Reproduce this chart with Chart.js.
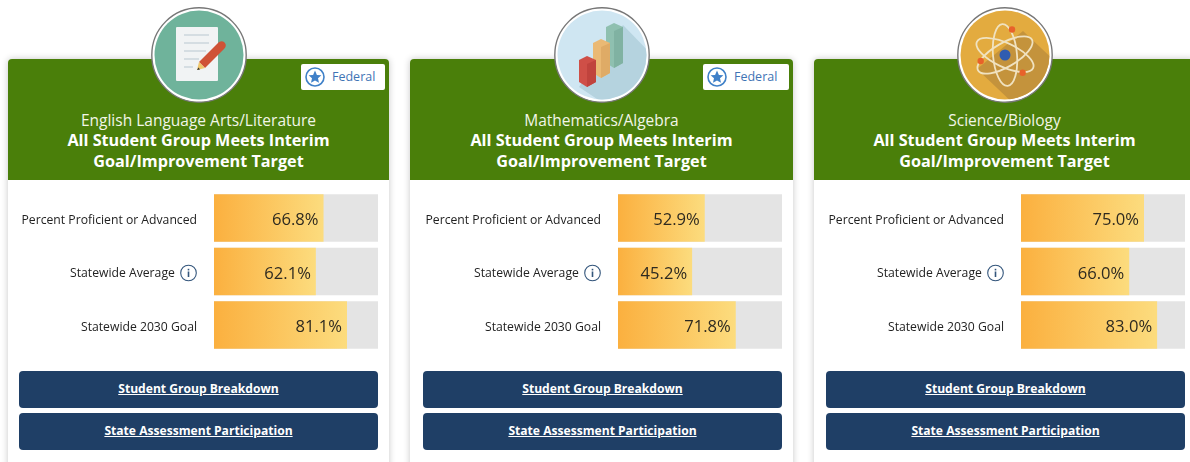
<!DOCTYPE html>
<html>
<head>
<meta charset="utf-8">
<script src="https://cdn.jsdelivr.net/npm/chart.js@4"></script>
<style>
  html, body { margin: 0; padding: 0; background: #fff; width: 1190px; height: 462px; overflow: hidden; font-family: "Open Sans", sans-serif; }
  .card { position: absolute; top: 59px; height: 420px; background: #fff; border-radius: 4px; box-shadow: 0 0 7px rgba(0,0,0,.22); }
  .head { position: absolute; left: 0; top: 0; width: 100%; height: 121px; background: #4a7f0a; border-radius: 4px 4px 0 0; color: #fff; text-align: center; }
  .subject { position: absolute; left: 0; right: 0; top: 51px; font-size: 15.5px; line-height: 21px; color: #f2f6e8; }
  .status { position: absolute; left: 0; right: 0; top: 71px; font-size: 16.2px; line-height: 21px; font-weight: 700; }
  .badge { position: absolute; left: 293px; right: 4px; top: 5px; height: 26px; background: #fff; border-radius: 2px; color: #3f74b5; font-size: 12.5px; line-height: 26px; }
  .badge span { position: absolute; left: 31px; top: 0; }
  .badge svg { position: absolute; left: 3px; top: 2px; }
  .icon { position: absolute; top: -52px; width: 96px; height: 96px; }
  .bars { position: absolute; top: 125px; width: 382px; height: 175px; }
  .btn { position: absolute; width: 359px; height: 37px; background: #1f3f66; border-radius: 4px; color: #fff; font-size: 12.1px; font-weight: 700; line-height: 36px; text-align: center; text-decoration: underline; }
</style>
</head>
<body>
<script>
// Values
const subjects = ['English Language Arts/Literature', 'Mathematics/Algebra', 'Science/Biology'];
const statusLines = ['All Student Group Meets Interim', 'Goal/Improvement Target'];
const rowLabels = ['Percent Proficient or Advanced', 'Statewide Average', 'Statewide 2030 Goal'];
const elaValues = [66.8, 62.1, 81.1];
const mathValues = [52.9, 45.2, 71.8];
const scienceValues = [75.0, 66.0, 83.0];
const trackValues = [100, 100, 100];
const buttonLabels = ['Student Group Breakdown', 'State Assessment Participation'];
const hasFederalBadge = [true, true, false];

const cardLefts = [8, 410, 814];
const cardWidths = [381, 383, 381];
const innerShift = [0, 2, 1];
const iconLefts = [143, 144, 143];
const allValues = [elaValues, mathValues, scienceValues];

const ring = (fill) => `<circle cx="48" cy="48" r="47.2" fill="#fff" stroke="#777" stroke-width="1.4"/><circle cx="48" cy="48" r="44.5" fill="${fill}"/>`;

const icons = [
  ring('#6fb39b') + `
    <rect x="25" y="20" width="42" height="54" rx="1" fill="#f1f3f4"/>
    <g stroke="#c3ced6" stroke-width="1.2">
      <line x1="33" y1="28" x2="58" y2="28"/><line x1="33" y1="36" x2="58" y2="36"/>
      <line x1="33" y1="44" x2="55" y2="44"/><line x1="33" y1="52" x2="48" y2="52"/><line x1="33" y1="60" x2="42" y2="60"/>
    </g>
    <path d="M48 55 L68 35 Q72 33 74 36 Q76 39 73 42 L54 61 Z" fill="#cf5236"/>
    <path d="M48 55 L54 61 L46 63 Z" fill="#efc66b"/>
    <path d="M47.5 60.5 L46 63 L49 62.5 Z" fill="#333"/>`,
  ring('#cfe6f2') + `
    <path d="M69 18 L100 50 L100 100 L55 100 L25 80 Z" fill="#b5d3df" clip-path="url(#clipMath)"/>
    <clipPath id="clipMath"><circle cx="48" cy="48" r="44.5"/></clipPath>
    <path d="M52 20 L60 16 L69 20 L69 56 L60 61 L52 56 Z" fill="#8fc0b0"/>
    <path d="M60 24 L69 20 L69 56 L60 61 Z" fill="#80b2a2"/>
    <path d="M39 36 L47 32 L56 36 L56 66 L47 71 L39 66 Z" fill="#eab974"/>
    <path d="M47 40 L56 36 L56 66 L47 71 Z" fill="#dfab66"/>
    <path d="M25 53 L33 49 L42 53 L42 75 L33 80 L25 75 Z" fill="#cf4f47"/>
    <path d="M33 57 L42 53 L42 75 L33 80 Z" fill="#c0433d"/>`,
  ring('#e3ab3f') + `
    <clipPath id="clipSci"><circle cx="48" cy="48" r="44.5"/></clipPath>
    <path d="M66 24 L100 56 L100 100 L60 100 L20 62 Z" fill="#c4933c" clip-path="url(#clipSci)"/>
    <g fill="none" stroke="#f0e2c0" stroke-width="1.8">
      <ellipse cx="48" cy="48" rx="31" ry="12" transform="rotate(25 48 48)"/>
      <ellipse cx="48" cy="48" rx="31" ry="12" transform="rotate(85 48 48)"/>
      <ellipse cx="48" cy="48" rx="31" ry="12" transform="rotate(-30 48 48)"/>
    </g>
    <circle cx="48" cy="48" r="5.5" fill="#2f5cb0"/>
    <circle cx="55" cy="22.5" r="3.2" fill="#e8622a"/>
    <circle cx="23.7" cy="54" r="3.2" fill="#e8622a"/>
    <circle cx="65.6" cy="65.8" r="3.2" fill="#e8622a"/>`
];

const starBadge = `<svg width="22" height="22" viewBox="0 0 22 22">
  <circle cx="11" cy="11" r="9" fill="none" stroke="#3f80c8" stroke-width="1.6"/>
  <path d="M11 4.6 L12.9 8.9 L17.4 9.3 L14 12.3 L15 16.8 L11 14.4 L7 16.8 L8 12.3 L4.6 9.3 L9.1 8.9 Z" fill="#3f80c8"/>
</svg>`;

// Gradient runs across each bar's own length
function barGradient(ctx) {
  const { chart, parsed } = ctx;
  if (!chart.chartArea || !parsed) return '#fbb040';
  const xs = chart.scales.x;
  const g = chart.ctx.createLinearGradient(xs.getPixelForValue(0), 0, xs.getPixelForValue(parsed.x), 0);
  g.addColorStop(0, '#fbb03f');
  g.addColorStop(1, '#fcdc7e');
  return g;
}

// Value text inside the bar end, plus the little info circle next to row 2
const barExtras = {
  id: 'barExtras',
  afterDatasetsDraw(chart) {
    const { ctx } = chart;
    const xs = chart.scales.x;
    const ys = chart.scales.y;
    const vals = chart.data.datasets[0].data;
    ctx.save();
    ctx.font = '16.6px "Open Sans"';
    ctx.fillStyle = '#2e2a20';
    ctx.textAlign = 'right';
    ctx.textBaseline = 'middle';
    vals.forEach((v, i) => {
      ctx.fillText(v.toFixed(1) + '%', xs.getPixelForValue(v) - 5, ys.getPixelForValue(i) + 2.5);
    });
    // info icon
    const cx = 180.5;
    const cy = ys.getPixelForValue(1) + 1.5;
    ctx.strokeStyle = '#34567c';
    ctx.fillStyle = '#34567c';
    ctx.lineWidth = 1.1;
    ctx.beginPath();
    ctx.arc(cx, cy, 7.8, 0, Math.PI * 2);
    ctx.stroke();
    ctx.fillRect(cx - 0.8, cy - 1.5, 1.6, 5.5);
    ctx.fillRect(cx - 0.8, cy - 4.2, 1.6, 1.6);
    ctx.restore();
  }
};

subjects.forEach((subject, s) => {
  const card = document.createElement('div');
  const shift = innerShift[s];
  card.className = 'card';
  card.style.left = cardLefts[s] + 'px';
  card.style.width = cardWidths[s] + 'px';
  const badge = hasFederalBadge[s] ? `<div class="badge">${starBadge}<span>Federal</span></div>` : '';
  card.innerHTML = `
    <div class="head">
      <div class="subject">${subject}</div>
      <div class="status">${statusLines[0]}<br>${statusLines[1]}</div>
      ${badge}
    </div>
    <svg class="icon" style="left:${iconLefts[s]}px" viewBox="0 0 96 96">${icons[s]}</svg>
    <div class="bars" style="left:${shift}px"><canvas id="bars${s}" width="382" height="175"></canvas></div>
    <div class="btn" style="top:312px;left:${11 + shift}px">${buttonLabels[0]}</div>
    <div class="btn" style="top:354px;left:${11 + shift}px">${buttonLabels[1]}</div>`;
  document.body.appendChild(card);

  new Chart(document.getElementById('bars' + s), {
    type: 'bar',
    data: {
      labels: rowLabels,
      datasets: [
        { data: allValues[s], backgroundColor: barGradient, grouped: false, barPercentage: 0.888, categoryPercentage: 1 },
        { data: trackValues, backgroundColor: '#e4e4e4', grouped: false, barPercentage: 0.888, categoryPercentage: 1 }
      ]
    },
    options: {
      indexAxis: 'y',
      responsive: false,
      animation: false,
      layout: { padding: { left: 0, right: 12, top: 0, bottom: 0 } },
      plugins: { legend: { display: false }, tooltip: { enabled: false } },
      scales: {
        x: { display: false, min: 0, max: 100 },
        y: {
          afterFit(scale) { scale.width = 206; },
          // ticks.padding also eats into the scale height, so the gap comes from an invisible tick mark
          grid: { drawOnChartArea: false, drawTicks: true, tickLength: 17, tickColor: 'transparent' },
          border: { display: false },
          ticks: {
            padding: 0,
            labelOffset: 2.5,
            color: '#222',
            font: { family: '"Open Sans"', size: 12.2 },
            // second row leaves room for the info icon
            callback(value, i) { return i === 1 ? rowLabels[i] + '\u00a0\u00a0\u00a0\u00a0\u00a0\u00a0\u00a0' : rowLabels[i]; }
          }
        }
      }
    },
    plugins: [barExtras]
  });
});
</script>
</body>
</html>
